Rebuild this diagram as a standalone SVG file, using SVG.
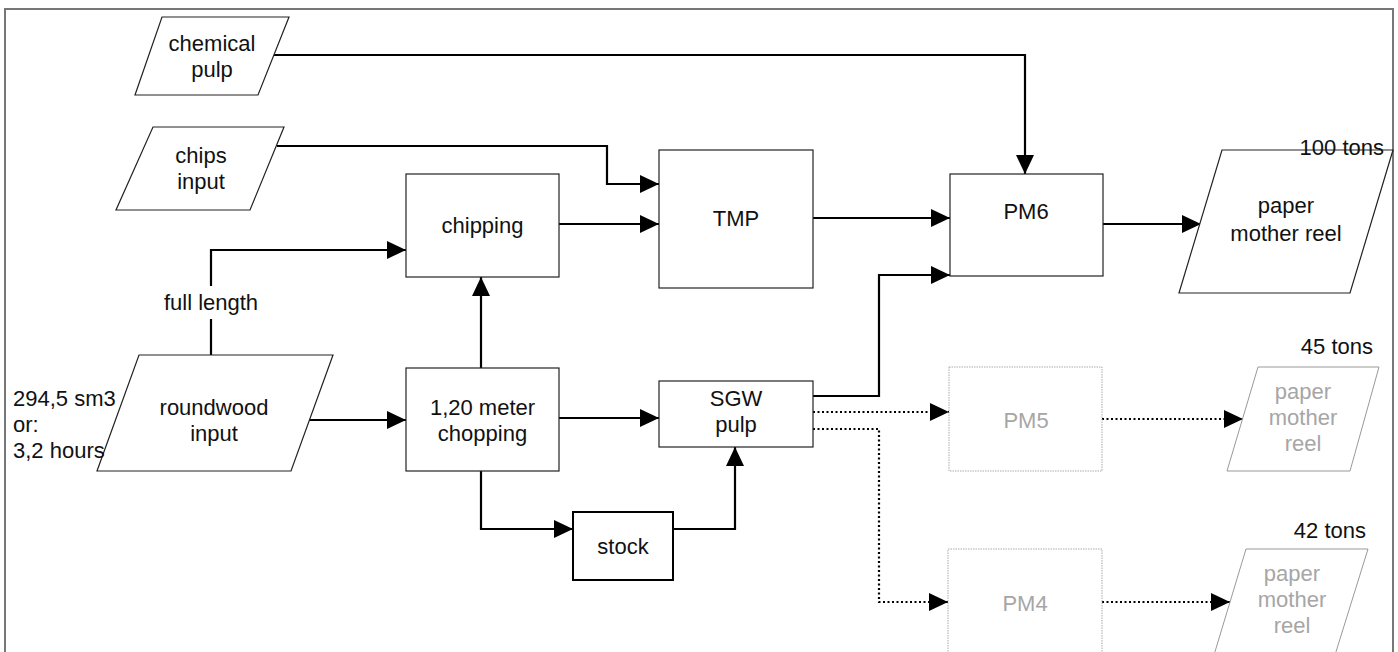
<svg xmlns="http://www.w3.org/2000/svg" width="1398" height="652" viewBox="0 0 1398 652">
<style>
text{font-family:"Liberation Sans",Arial,sans-serif;font-size:22px;fill:#111;text-anchor:middle}
.g text{fill:#a6a6a6}
.box{fill:#fff;stroke:#222;stroke-width:1.2}
.gbox{fill:#fff;stroke:#aaa;stroke-width:1;stroke-dasharray:1.5 1}
.gpar{fill:#fff;stroke:#999;stroke-width:1}
.conn{fill:none;stroke:#000;stroke-width:2.2;marker-end:url(#arr)}
.dot{fill:none;stroke:#000;stroke-width:2.2;stroke-dasharray:2 2.5;marker-end:url(#arr)}
.lbl{text-anchor:end}
</style>
<defs>
<marker id="arr" markerUnits="userSpaceOnUse" markerWidth="19" markerHeight="18" refX="19" refY="9" orient="auto">
<path d="M0,0 L19,9 L0,18 z" fill="#000" stroke="none"/>
</marker>
</defs>
<rect x="0" y="0" width="1398" height="652" fill="#fff"/>
<rect x="5" y="9" width="1388" height="652" fill="none" stroke="#777" stroke-width="2"/>

<g id="connectors">
<path class="conn" d="M273 55 H1025 V174"/>
<path class="conn" d="M277 146 H607 V184 H659"/>
<path class="conn" d="M559 224 H659"/>
<path class="conn" d="M813 218 H950"/>
<path class="conn" d="M813 396 H879 V275 H950"/>
<path class="conn" d="M1103 224 H1201"/>
<path class="conn" d="M309 420 H406"/>
<path class="conn" d="M211 355 V250 H406"/>
<path class="conn" d="M481 368 V277"/>
<path class="conn" d="M559 418 H659"/>
<path class="conn" d="M481 471 V529 H573"/>
<path class="conn" d="M673 529 H735 V447"/>
<path class="dot" d="M813 412 H949"/>
<path class="dot" d="M813 429 H879 V602 H948"/>
<path class="dot" d="M1102 419 H1243"/>
<path class="dot" d="M1102 602 H1230"/>
</g>

<g id="full-length-label">
<rect x="160" y="286" width="102" height="33" fill="#fff"/>
<text x="211" y="310">full length</text>
</g>

<g id="chemical-pulp">
<polygon class="box" points="162,17 289,17 258,95 135,95"/>
<text x="212" y="51">chemical</text>
<text x="212" y="77">pulp</text>
</g>

<g id="chips-input">
<polygon class="box" points="153,127 284,127 250,210 116,210"/>
<text x="201" y="163">chips</text>
<text x="201" y="189">input</text>
</g>

<g id="roundwood-input">
<polygon class="box" points="139,355 333,355 291,471 97,471"/>
<text x="214" y="415">roundwood</text>
<text x="214" y="441">input</text>
</g>

<g id="roundwood-amount">
<text x="13" y="406" style="text-anchor:start">294,5 sm3</text>
<text x="13" y="432" style="text-anchor:start">or:</text>
<text x="13" y="458" style="text-anchor:start">3,2 hours</text>
</g>

<g id="chipping">
<rect class="box" x="406" y="174" width="153" height="103"/>
<text x="482.5" y="233">chipping</text>
</g>

<g id="chopping">
<rect class="box" x="406" y="368" width="153" height="103"/>
<text x="482.5" y="415">1,20 meter</text>
<text x="482.5" y="441">chopping</text>
</g>

<g id="stock">
<rect x="573" y="512" width="100" height="68" fill="#fff" stroke="#000" stroke-width="2"/>
<text x="623" y="554">stock</text>
</g>

<g id="tmp">
<rect class="box" x="659" y="150" width="154" height="138"/>
<text x="736" y="226">TMP</text>
</g>

<g id="sgw-pulp">
<rect class="box" x="659" y="381" width="154" height="66"/>
<text x="736" y="406">SGW</text>
<text x="736" y="432">pulp</text>
</g>

<g id="pm6">
<rect class="box" x="950" y="174" width="153" height="102"/>
<text x="1026" y="219">PM6</text>
</g>

<g id="reel-pm6">
<polygon class="box" points="1222,150 1393,150 1350,293 1179,293"/>
<text x="1286" y="213">paper</text>
<text x="1286" y="241">mother reel</text>
<text class="lbl" x="1384" y="155">100 tons</text>
</g>

<g id="pm5" class="g">
<rect class="gbox" x="949" y="367" width="153" height="104"/>
<text x="1026" y="428">PM5</text>
</g>

<g id="reel-pm5">
<polygon class="gpar" points="1258,367 1379,367 1350,471 1227,471"/>
<g class="g">
<text x="1303" y="399">paper</text>
<text x="1303" y="425">mother</text>
<text x="1303" y="451">reel</text>
</g>
<text class="lbl" x="1373" y="354">45 tons</text>
</g>

<g id="pm4" class="g">
<rect class="gbox" x="948" y="549" width="154" height="106"/>
<text x="1025" y="611">PM4</text>
</g>

<g id="reel-pm4">
<polygon class="gpar" points="1246,549 1368,549 1335,655 1214,655"/>
<g class="g">
<text x="1292" y="581">paper</text>
<text x="1292" y="607">mother</text>
<text x="1292" y="633">reel</text>
</g>
<text class="lbl" x="1366" y="538">42 tons</text>
</g>
</svg>
